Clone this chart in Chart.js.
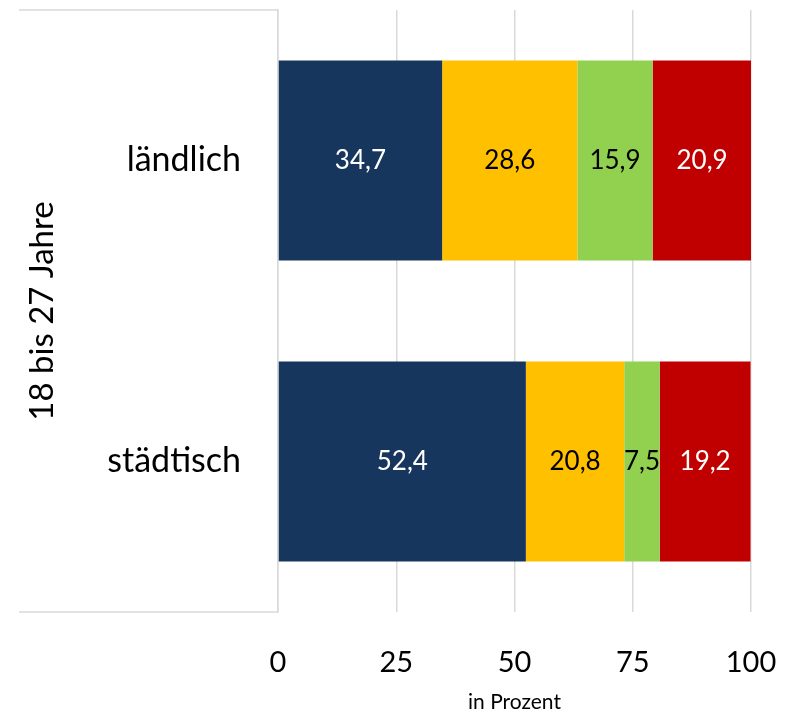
<!DOCTYPE html>
<html>
<head>
<meta charset="utf-8">
<script src="https://cdn.jsdelivr.net/npm/chart.js@4/dist/chart.umd.min.js"></script>
<style>
  html, body { margin: 0; padding: 0; background: #ffffff; }
  #wrap { width: 794px; height: 717px; position: relative; }
</style>
</head>
<body>
<div id="wrap"><canvas id="c" width="794" height="717"></canvas></div>
<script>
const categories = ['ländlich', 'städtisch'];
const groupLabel = '18 bis 27 Jahre';
const seriesNames = ['Serie 1', 'Serie 2', 'Serie 3', 'Serie 4'];
const series1 = [34.7, 52.4];
const series2 = [28.6, 20.8];
const series3 = [15.9, 7.5];
const series4 = [20.9, 19.2];
const xTicks = [0, 25, 50, 75, 100];
const xTitle = 'in Prozent';

const colors = ['#17365D', '#FFC000', '#92D050', '#C00000'];
const labelColors = ['#ffffff', '#000000', '#000000', '#ffffff'];
const FONT = 'Lato, "Open Sans", sans-serif';

const allSeries = [series1, series2, series3, series4];

const dataLabelPlugin = {
  id: 'dataLabels',
  afterDatasetsDraw(chart) {
    const ctx = chart.ctx;
    ctx.save();
    ctx.font = '26px ' + FONT;
    ctx.textAlign = 'center';
    ctx.textBaseline = 'middle';
    chart.data.datasets.forEach((ds, i) => {
      const meta = chart.getDatasetMeta(i);
      meta.data.forEach((el, j) => {
        const v = ds.data[j];
        const cx = (el.x + el.base) / 2;
        ctx.fillStyle = labelColors[i];
        ctx.fillText(v.toFixed(1).replace('.', ','), cx, el.y);
      });
    });
    ctx.restore();
  }
};

const boxPlugin = {
  id: 'catBox',
  afterDraw(chart) {
    const ctx = chart.ctx;
    const a = chart.chartArea;
    ctx.save();
    ctx.strokeStyle = '#d9d9d9';
    ctx.lineWidth = 1.5;
    ctx.beginPath();
    ctx.moveTo(19, a.top);
    ctx.lineTo(a.left, a.top);
    ctx.moveTo(19, a.bottom);
    ctx.lineTo(a.left, a.bottom);
    ctx.stroke();
    ctx.restore();
  }
};

new Chart(document.getElementById('c'), {
  type: 'bar',
  data: {
    labels: categories,
    datasets: allSeries.map((d, i) => ({
      label: seriesNames[i],
      data: d,
      backgroundColor: colors[i],
      borderWidth: 0,
      categoryPercentage: 1,
      barPercentage: 0.664
    }))
  },
  options: {
    indexAxis: 'y',
    responsive: false,
    animation: false,
    devicePixelRatio: 1,
    layout: { padding: { top: 10, right: 43, left: 0, bottom: 0 } },
    plugins: {
      legend: { display: false },
      tooltip: { enabled: false }
    },
    scales: {
      x: {
        stacked: true,
        min: 0,
        max: 100,
        afterBuildTicks(scale) { scale.ticks = xTicks.map(v => ({ value: v })); },
        afterFit(scale) {
          scale.height = 105;
          scale.paddingLeft = 0;
          scale.paddingRight = 0;
        },
        grid: { color: '#d9d9d9', lineWidth: 1.5, drawTicks: false },
        border: { display: false },
        ticks: {
          padding: 33,
          color: '#000000',
          font: { family: FONT, size: 29 }
        },
        title: {
          display: true,
          text: xTitle,
          color: '#000000',
          font: { family: FONT, size: 21 },
          padding: { top: 0, bottom: 2 }
        }
      },
      y: {
        stacked: true,
        afterFit(scale) {
          scale.width = 278;
          scale.paddingTop = 0;
          scale.paddingBottom = 0;
        },
        grid: { display: false, drawTicks: false },
        border: { display: true, color: '#d9d9d9', width: 1.5 },
        ticks: {
          padding: 37,
          color: '#000000',
          font: { family: FONT, size: 34 }
        },
        title: {
          display: true,
          text: groupLabel,
          color: '#000000',
          font: { family: FONT, size: 33 },
          padding: { top: 23, bottom: 0 }
        }
      }
    }
  },
  plugins: [dataLabelPlugin, boxPlugin]
});
</script>
</body>
</html>
